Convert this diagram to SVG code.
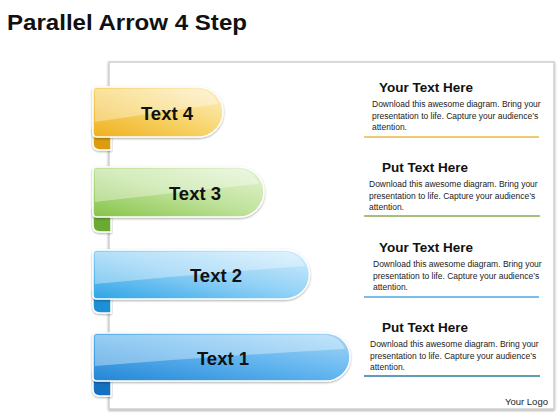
<svg xmlns="http://www.w3.org/2000/svg" width="560" height="420" viewBox="0 0 560 420">
<defs>
<style>
.title{font-family:"Liberation Sans",Arial,sans-serif;font-weight:bold;font-size:22px;fill:#111}
.tab{font-family:"Liberation Sans",Arial,sans-serif;font-weight:bold;font-size:18.5px;fill:#111;text-anchor:middle}
.head{font-family:"Liberation Sans",Arial,sans-serif;font-weight:bold;font-size:13.5px;fill:#111}
.body{font-family:"Liberation Sans",Arial,sans-serif;font-size:8.5px;fill:#222}
.logo{font-family:"Liberation Sans",Arial,sans-serif;font-size:9.5px;fill:#222}
.edge{stroke:#fff;stroke-width:1.5}
.hl{fill:#fff;opacity:0.35}
</style>
<filter id="sh" x="-10%" y="-10%" width="120%" height="130%">
<feDropShadow dx="0" dy="1" stdDeviation="1.2" flood-color="#000" flood-opacity="0.35"/>
</filter>
<linearGradient id="gY" x1="0" y1="1" x2="1" y2="0">
<stop offset="0" stop-color="#eeb01e"/><stop offset="0.5" stop-color="#f7d46a"/><stop offset="1" stop-color="#fdf1cc"/>
</linearGradient>
<linearGradient id="gG" x1="0" y1="1" x2="1" y2="0">
<stop offset="0" stop-color="#86c447"/><stop offset="0.5" stop-color="#bfe29a"/><stop offset="1" stop-color="#e6f4d6"/>
</linearGradient>
<linearGradient id="gL" x1="0" y1="1" x2="1" y2="0">
<stop offset="0" stop-color="#2ea4e6"/><stop offset="0.5" stop-color="#8fd0f6"/><stop offset="1" stop-color="#d4eefc"/>
</linearGradient>
<linearGradient id="gB" x1="0" y1="1" x2="1" y2="0">
<stop offset="0" stop-color="#2286d6"/><stop offset="0.5" stop-color="#5fb3ee"/><stop offset="1" stop-color="#a6d8f8"/>
</linearGradient>
</defs>
<rect width="560" height="420" fill="#fff"/>
<text class="title" x="7" y="30" textLength="240" lengthAdjust="spacingAndGlyphs">Parallel Arrow 4 Step</text>

<!-- panel -->
<g id="panel">
<rect x="109" y="62" width="445" height="347" fill="#fff" stroke="#cfcfcf" stroke-width="1.5" filter="url(#sh)"/>
</g>

<!-- curls -->
<g id="curls">
<path d="M93,128 L93,143 Q93,150 100,150 L111,150 L111,132 Z" fill="#dc9c10" class="edge" filter="url(#sh)"/>
<path d="M93,208 L93,225 Q93,232 100,232 L111,232 L111,212 Z" fill="#6aac30" class="edge" filter="url(#sh)"/>
<path d="M93,290 L93,306 Q93,313 100,313 L111,313 L111,294 Z" fill="#1c8fd6" class="edge" filter="url(#sh)"/>
<path d="M93,372 L93,389 Q93,396 100,396 L111,396 L111,376 Z" fill="#1470c0" class="edge" filter="url(#sh)"/>
</g>

<g id="tab4">
<path d="M97,87 L198,87 A25,25 0 0 1 198,137 L97,137 Q93,137 93,133 L93,91 Q93,87 97,87 Z" fill="url(#gY)" class="edge" filter="url(#sh)"/>
<path class="hl" d="M95,89 L198,89 A23,23 0 0 1 218,104 Q160,112 95,122 Z"/>
<text class="tab" x="167" y="120">Text 4</text>
</g>
<g id="tab3">
<path d="M97,167 L239,167 A25,25 0 0 1 239,217 L97,217 Q93,217 93,213 L93,171 Q93,167 97,167 Z" fill="url(#gG)" class="edge" filter="url(#sh)"/>
<path class="hl" d="M95,169 L239,169 A23,23 0 0 1 259,184 Q180,192 95,202 Z"/>
<text class="tab" x="195" y="200">Text 3</text>
</g>
<g id="tab2">
<path d="M97,250 L285,250 A24.5,24.5 0 0 1 285,299 L97,299 Q93,299 93,295 L93,254 Q93,250 97,250 Z" fill="url(#gL)" class="edge" filter="url(#sh)"/>
<path class="hl" d="M95,252 L285,252 A22,22 0 0 1 305,266 Q200,274 95,284 Z"/>
<text class="tab" x="216" y="282">Text 2</text>
</g>
<g id="tab1">
<path d="M97,333 L326,333 A24,24 0 0 1 326,381 L97,381 Q93,381 93,377 L93,337 Q93,333 97,333 Z" fill="url(#gB)" class="edge" filter="url(#sh)"/>
<path class="hl" d="M95,335 L326,335 A22,22 0 0 1 345,349 Q220,356 95,366 Z"/>
<text class="tab" x="223" y="365">Text 1</text>
</g>

<g id="desc4">
<text class="head" x="379" y="92">Your Text Here</text>
<text class="body" x="372" y="107">Download this awesome diagram. Bring your</text>
<text class="body" x="372" y="119">presentation to life. Capture your audience’s</text>
<text class="body" x="372" y="130">attention.</text>
<line x1="364" y1="137" x2="539" y2="137" stroke="#e8b840" stroke-width="1.6"/>
</g>
<g id="desc3">
<text class="head" x="382" y="172">Put Text Here</text>
<text class="body" x="369" y="187">Download this awesome diagram. Bring your</text>
<text class="body" x="369" y="199">presentation to life. Capture your audience’s</text>
<text class="body" x="369" y="210">attention.</text>
<line x1="364" y1="216" x2="540" y2="216" stroke="#8aaa50" stroke-width="1.6"/>
</g>
<g id="desc2">
<text class="head" x="379" y="252">Your Text Here</text>
<text class="body" x="373" y="267">Download this awesome diagram. Bring your</text>
<text class="body" x="373" y="279">presentation to life. Capture your audience’s</text>
<text class="body" x="373" y="290">attention.</text>
<line x1="364" y1="297" x2="539" y2="297" stroke="#4aaae2" stroke-width="1.6"/>
</g>
<g id="desc1">
<text class="head" x="382" y="332">Put Text Here</text>
<text class="body" x="370" y="347">Download this awesome diagram. Bring your</text>
<text class="body" x="370" y="359">presentation to life. Capture your audience’s</text>
<text class="body" x="370" y="370">attention.</text>
<line x1="364" y1="376" x2="540" y2="376" stroke="#2a7f9e" stroke-width="1.6"/>
</g>
<text class="logo" x="505" y="405">Your Logo</text>
</svg>
